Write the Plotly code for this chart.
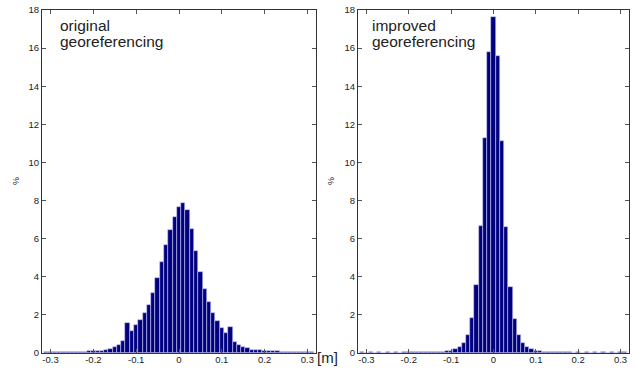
import plotly.graph_objects as go
from plotly.subplots import make_subplots

bin_centers = [-0.31, -0.30, -0.29, -0.28, -0.27, -0.26, -0.25, -0.24, -0.23, -0.22, -0.21,
               -0.20, -0.19, -0.18, -0.17, -0.16, -0.15, -0.14, -0.13, -0.12, -0.11,
               -0.10, -0.09, -0.08, -0.07, -0.06, -0.05, -0.04, -0.03, -0.02, -0.01,
               0.00, 0.01, 0.02, 0.03, 0.04, 0.05, 0.06, 0.07, 0.08, 0.09, 0.10,
               0.11, 0.12, 0.13, 0.14, 0.15, 0.16, 0.17, 0.18, 0.19, 0.20,
               0.21, 0.22, 0.23, 0.24, 0.25, 0.26, 0.27, 0.28, 0.29, 0.30, 0.31]

original_pct = [0.05, 0.03, 0.03, 0.04, 0.03, 0.04, 0.04, 0.05, 0.05, 0.06, 0.08,
                0.08, 0.09, 0.11, 0.14, 0.19, 0.30, 0.42, 0.63, 1.57, 1.18,
                1.45, 1.73, 2.08, 2.52, 3.13, 3.92, 4.78, 5.66, 6.47, 7.13,
                7.66, 7.85, 7.49, 6.53, 5.35, 4.27, 3.34, 2.66, 2.08, 1.66, 1.30,
                1.05, 1.38, 0.56, 0.40, 0.32, 0.24, 0.18, 0.15, 0.14, 0.12,
                0.10, 0.09, 0.08, 0.06, 0.05, 0.05, 0.04, 0.04, 0.03, 0.04, 0.06]

improved_pct = [0.03, 0.02, 0.03, 0.02, 0.03, 0.02, 0.03, 0.02, 0.03, 0.02, 0.03,
                0.03, 0.03, 0.03, 0.04, 0.04, 0.04, 0.04, 0.05, 0.06, 0.08,
                0.12, 0.21, 0.33, 0.54, 0.94, 1.85, 3.58, 6.65, 11.30, 15.80,
                17.65, 15.60, 11.10, 6.60, 3.45, 1.80, 0.94, 0.50, 0.32, 0.20, 0.12,
                0.08, 0.06, 0.04, 0.04, 0.03, 0.03, 0.03, 0.03, 0.02, 0.03,
                0.02, 0.03, 0.02, 0.03, 0.02, 0.03, 0.02, 0.03, 0.02, 0.03, 0.03]

x_tick_vals = [-0.3, -0.2, -0.1, 0, 0.1, 0.2, 0.3]
x_tick_text = ["-0.3", "-0.2", "-0.1", "0", "0.1", "0.2", "0.3"]
y_tick_vals = [0, 2, 4, 6, 8, 10, 12, 14, 16, 18]

panel_line1 = ["original", "improved"]
panel_line2 = ["georeferencing", "georeferencing"]

BAR = "#000080"
EDGE = "#c9c9ee"
TXT = "#222222"
FONT = "Liberation Sans, Arial"

W, H = 635, 371
ML, MR, MT, MB = 42, 6, 10, 18
PW, PH = W - ML - MR, H - MT - MB


def px_x(p):
    return (p - ML) / PW


def px_y(p):
    return (H - MB - p) / PH


fig = make_subplots(rows=1, cols=2, horizontal_spacing=0.07)
for i, vals in enumerate([original_pct, improved_pct]):
    fig.add_trace(go.Bar(x=bin_centers, y=vals, width=0.01,
                         marker=dict(color=BAR, line=dict(color=EDGE, width=0.6)),
                         showlegend=False, hoverinfo="skip"), row=1, col=i + 1)

axis_common = dict(showline=True, linecolor="#333333", linewidth=1, mirror="ticks",
                   ticks="inside", ticklen=4, tickcolor="#555555", showgrid=False,
                   zeroline=False, automargin=False,
                   tickfont=dict(family=FONT, size=9.5, color=TXT))

fig.update_xaxes(range=[-0.32, 0.32], tickvals=x_tick_vals, ticktext=x_tick_text,
                 ticklabelstandoff=-2, **axis_common)
fig.update_yaxes(range=[0, 18], tickvals=y_tick_vals, **axis_common)

fig.update_layout(
    width=W, height=H,
    margin=dict(l=ML, r=MR, t=MT, b=MB),
    paper_bgcolor="white", plot_bgcolor="white",
    bargap=0,
    xaxis=dict(domain=[0, px_x(316)]),
    xaxis2=dict(domain=[px_x(358), 1.0]),
)

for i, x0 in enumerate([58, 370]):
    fig.add_annotation(xref="paper", yref="paper", x=px_x(x0), y=px_y(25), xanchor="left",
                       yanchor="middle", text=panel_line1[i], showarrow=False,
                       font=dict(family=FONT, size=15.5, color=TXT))
    fig.add_annotation(xref="paper", yref="paper", x=px_x(x0), y=px_y(41), xanchor="left",
                       yanchor="middle", text=panel_line2[i], showarrow=False,
                       font=dict(family=FONT, size=15.5, color=TXT))

for xp in [16, 331]:
    fig.add_annotation(xref="paper", yref="paper", x=px_x(xp), y=px_y(181), text="%",
                       textangle=-90, showarrow=False, xanchor="center", yanchor="middle",
                       font=dict(family=FONT, size=9, color=TXT))

fig.add_annotation(xref="paper", yref="paper", x=px_x(327), y=px_y(357), xanchor="center",
                   yanchor="middle", text="[m]", showarrow=False,
                   font=dict(family=FONT, size=15, color=TXT))

fig.write_html("out.html", config={"displayModeBar": False},
               post_script="document.body.style.margin='0px';document.body.style.overflow='hidden';")
